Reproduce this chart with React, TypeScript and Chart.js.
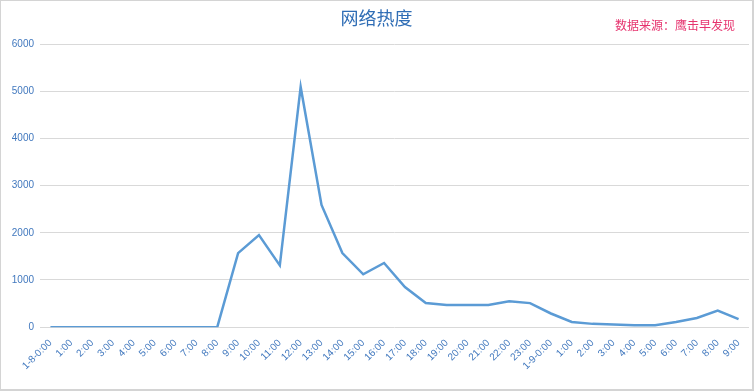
import React, { useEffect, useRef } from "react";
import { Chart, registerables } from "chart.js";

Chart.register(...registerables);

const categories: string[] = [
  "1-8-0:00", "1:00", "2:00", "3:00", "4:00", "5:00", "6:00", "7:00", "8:00", "9:00",
  "10:00", "11:00", "12:00", "13:00", "14:00", "15:00", "16:00", "17:00", "18:00", "19:00",
  "20:00", "21:00", "22:00", "23:00", "1-9-0:00", "1:00", "2:00", "3:00", "4:00", "5:00",
  "6:00", "7:00", "8:00", "9:00",
];

const heatValues: number[] = [
  0, 0, 0, 0, 0, 0, 0, 0, 0, 1570,
  1950, 1310, 5090, 2590, 1570, 1120, 1360, 850, 510, 470,
  470, 470, 550, 510, 290, 110, 70, 55, 40, 40,
  110, 195, 350, 170,
];

const yTicks: number[] = [0, 1000, 2000, 3000, 4000, 5000, 6000];

const titleText = "网络热度";
const sourceText = "数据来源：鹰击早发现";

const FONT = "'Liberation Sans', Arial, 'Noto Sans CJK SC', sans-serif";

const overlayPlugin = {
  id: "overlayText",
  afterDraw(chart: any) {
    const ctx = chart.ctx as CanvasRenderingContext2D;
    ctx.save();
    ctx.textBaseline = "middle";
    ctx.font = `18px 'Noto Sans CJK SC', ${FONT}`;
    ctx.fillStyle = "#2f6db5";
    ctx.textAlign = "center";
    ctx.fillText(titleText, chart.width / 2, 17);
    ctx.font = `12px 'Noto Sans CJK SC', ${FONT}`;
    ctx.fillStyle = "#e6336e";
    ctx.textAlign = "right";
    ctx.fillText(sourceText, chart.width - 17, 24);
    ctx.restore();
  },
};

export default function App() {
  const ref = useRef<HTMLCanvasElement | null>(null);
  useEffect(() => {
    document.body.style.margin = "0";
    if (!ref.current) return;
    const chart = new Chart(ref.current, {
      type: "line",
      data: {
        labels: categories,
        datasets: [
          {
            data: heatValues,
            borderColor: "#5b9bd5",
            borderWidth: 2.5,
            pointRadius: 0,
            tension: 0,
            fill: false,
          },
        ],
      },
      options: {
        animation: false,
        responsive: false,
        maintainAspectRatio: false,
        layout: { padding: { top: 43, left: 11, right: 3, bottom: 15 } },
        plugins: {
          legend: { display: false },
          title: { display: false },
          tooltip: { enabled: false },
        },
        scales: {
          x: {
            offset: true,
            grid: { display: false },
            border: { display: false },
            afterFit: (scale: any) => {
              scale.paddingLeft = 0;
              scale.paddingRight = 0;
            },
            ticks: {
              autoSkip: false,
              maxRotation: 45,
              minRotation: 45,
              color: "#4178be",
              font: { size: 10, family: FONT },
              padding: 2,
            },
          },
          y: {
            min: 0,
            max: 6000,
            afterBuildTicks: (axis: any) => {
              axis.ticks = yTicks.map((v) => ({ value: v }));
            },
            afterFit: (scale: any) => {
              scale.width = 28;
            },
            grid: { color: "#d9d9d9", lineWidth: 1, drawTicks: false },
            border: { display: false },
            ticks: {
              color: "#4178be",
              font: { size: 10, family: FONT },
              padding: 6,
              callback: (v: any) => String(v),
            },
          },
        },
      },
      plugins: [overlayPlugin],
    });
    return () => chart.destroy();
  }, []);
  return (
    <div
      style={{
        position: "fixed",
        left: 0,
        top: 0,
        width: 754,
        height: 391,
        boxSizing: "border-box",
        border: "1px solid #d4d4d4",
        borderRightWidth: 2,
        borderBottomWidth: 2,
        background: "#fff",
      }}
    >
      <canvas ref={ref} width={751} height={388} style={{ display: "block" }} />
    </div>
  );
}
